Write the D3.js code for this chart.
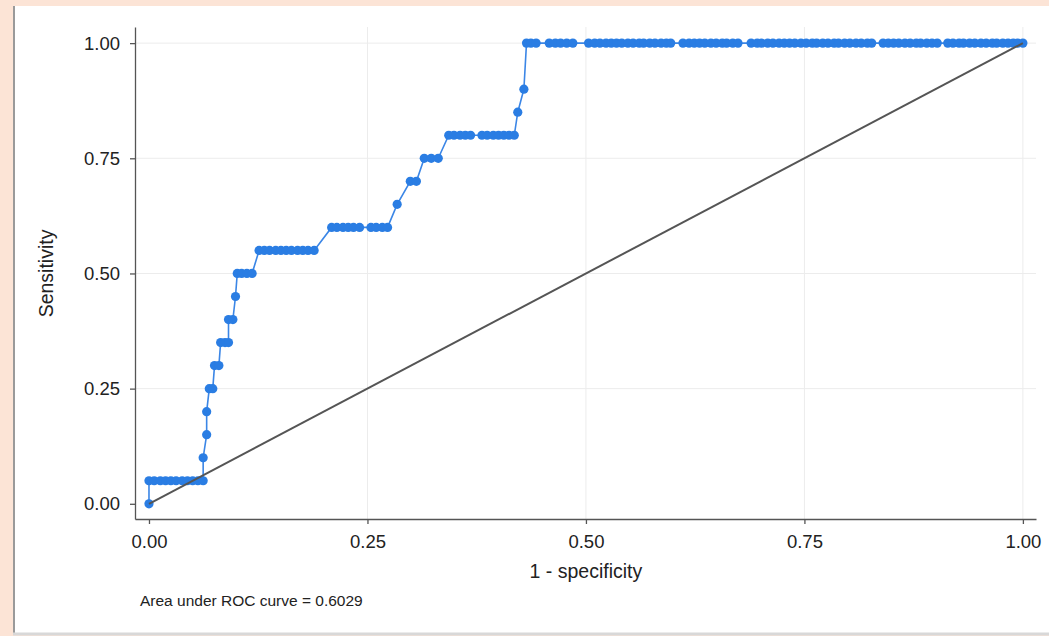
<!DOCTYPE html>
<html>
<head>
<meta charset="utf-8">
<script src="https://cdn.jsdelivr.net/npm/d3@7"></script>
<style>
  body { margin: 0; background: #fce4d6; }
  svg { display: block; font-family: "Liberation Sans", Arial, Helvetica, sans-serif; }
  .axis path, .axis line { stroke: #555; stroke-width: 1.3px; }
  .axis text { fill: #222; font-size: 18.5px; }
</style>
</head>
<body>
<div class="chart"></div>
<script>
// ROC points: 1 - specificity and sensitivity
var fpr = [
  0.000,
  0.000, 0.006, 0.013, 0.019, 0.025, 0.031, 0.038, 0.044, 0.050, 0.056, 0.062,
  0.062,
  0.066,
  0.066,
  0.069, 0.073,
  0.075, 0.080,
  0.082, 0.087, 0.091,
  0.091, 0.096,
  0.099,
  0.101, 0.106, 0.112, 0.118,
  0.126, 0.132, 0.138, 0.145, 0.151, 0.157, 0.163, 0.170, 0.176, 0.182, 0.189,
  0.209, 0.215, 0.222, 0.228, 0.234, 0.241, 0.254, 0.260, 0.267, 0.273,
  0.284,
  0.299, 0.306,
  0.315, 0.323, 0.331,
  0.343, 0.349, 0.356, 0.362, 0.368, 0.381, 0.387, 0.394, 0.400, 0.406, 0.412, 0.418,
  0.422,
  0.429,
  0.432, 0.437, 0.443, 0.458, 0.465, 0.471, 0.478, 0.485,
  0.503, 0.510, 0.516, 0.523, 0.529, 0.535, 0.541, 0.548, 0.554, 0.561, 0.566,
  0.573, 0.579, 0.586, 0.592, 0.597,
  0.611, 0.618, 0.624, 0.630, 0.636, 0.643, 0.649, 0.656, 0.661, 0.668, 0.674,
  0.689, 0.696, 0.701, 0.708, 0.714, 0.721, 0.727, 0.733, 0.739, 0.746, 0.752,
  0.759, 0.764, 0.771, 0.777, 0.784, 0.789, 0.796, 0.802, 0.809, 0.815, 0.822, 0.827,
  0.840, 0.846, 0.852, 0.858, 0.865, 0.871, 0.878, 0.883, 0.890, 0.896, 0.902,
  0.914, 0.920, 0.927, 0.932, 0.939, 0.945, 0.952, 0.958, 0.965, 0.970, 0.977,
  0.983, 0.989, 0.994, 1.000
];
var sens = [
  0.00,
  0.05, 0.05, 0.05, 0.05, 0.05, 0.05, 0.05, 0.05, 0.05, 0.05, 0.05,
  0.10,
  0.15,
  0.20,
  0.25, 0.25,
  0.30, 0.30,
  0.35, 0.35, 0.35,
  0.40, 0.40,
  0.45,
  0.50, 0.50, 0.50, 0.50,
  0.55, 0.55, 0.55, 0.55, 0.55, 0.55, 0.55, 0.55, 0.55, 0.55, 0.55,
  0.60, 0.60, 0.60, 0.60, 0.60, 0.60, 0.60, 0.60, 0.60, 0.60,
  0.65,
  0.70, 0.70,
  0.75, 0.75, 0.75,
  0.80, 0.80, 0.80, 0.80, 0.80, 0.80, 0.80, 0.80, 0.80, 0.80, 0.80, 0.80,
  0.85,
  0.90,
  1.00, 1.00, 1.00, 1.00, 1.00, 1.00, 1.00, 1.00,
  1.00, 1.00, 1.00, 1.00, 1.00, 1.00, 1.00, 1.00, 1.00, 1.00, 1.00,
  1.00, 1.00, 1.00, 1.00, 1.00,
  1.00, 1.00, 1.00, 1.00, 1.00, 1.00, 1.00, 1.00, 1.00, 1.00, 1.00,
  1.00, 1.00, 1.00, 1.00, 1.00, 1.00, 1.00, 1.00, 1.00, 1.00, 1.00,
  1.00, 1.00, 1.00, 1.00, 1.00, 1.00, 1.00, 1.00, 1.00, 1.00, 1.00, 1.00,
  1.00, 1.00, 1.00, 1.00, 1.00, 1.00, 1.00, 1.00, 1.00, 1.00, 1.00,
  1.00, 1.00, 1.00, 1.00, 1.00, 1.00, 1.00, 1.00, 1.00, 1.00, 1.00,
  1.00, 1.00, 1.00, 1.00
];
var tickValues = [0, 0.25, 0.5, 0.75, 1];
var xTitle = "1 - specificity";
var yTitle = "Sensitivity";
var note = "Area under ROC curve = 0.6029";

var svgWidth = 1049;
var svgHeight = 636;

var svg = d3.select(".chart")
    .append("svg")
    .attr("width", svgWidth)
    .attr("height", svgHeight);

// white graph panel on the peach page
svg.append("rect")
    .attr("x", 13).attr("y", 6)
    .attr("width", svgWidth - 13).attr("height", 627)
    .attr("fill", "#fff");
svg.append("line")
    .attr("x1", 14).attr("x2", 14).attr("y1", 6).attr("y2", 634)
    .attr("stroke", "#9a9a9a").attr("stroke-width", 2);
svg.append("line")
    .attr("x1", 13).attr("x2", svgWidth).attr("y1", 634).attr("y2", 634)
    .attr("stroke", "#d8d8d8").attr("stroke-width", 3);

// scales (plot region runs a little past 0 and 1, as Stata does)
var x = d3.scaleLinear().domain([-0.016, 1.015]).range([135, 1036]);
var y = d3.scaleLinear().domain([-0.033, 1.035]).range([519, 27]);

// grid
var grid = svg.append("g");
grid.selectAll(".gx").data(tickValues.slice(1)).enter().append("line")
    .attr("x1", function (d) { return x(d); })
    .attr("x2", function (d) { return x(d); })
    .attr("y1", y.range()[1]).attr("y2", y.range()[0])
    .attr("stroke", "#ececec").attr("stroke-width", 1);
grid.selectAll(".gy").data(tickValues.slice(1)).enter().append("line")
    .attr("x1", x.range()[0]).attr("x2", x.range()[1])
    .attr("y1", function (d) { return y(d); })
    .attr("y2", function (d) { return y(d); })
    .attr("stroke", "#ececec").attr("stroke-width", 1);

// ROC curve
var pts = fpr.map(function (d, i) { return [d, sens[i]]; });
var line = d3.line()
    .x(function (d) { return x(d[0]); })
    .y(function (d) { return y(d[1]); });

svg.append("path")
    .datum(pts)
    .attr("d", line)
    .attr("fill", "none")
    .attr("stroke", "#3b86e6")
    .attr("stroke-width", 1.6);

svg.selectAll("circle")
    .data(pts)
    .enter()
    .append("circle")
    .attr("cx", function (d) { return x(d[0]); })
    .attr("cy", function (d) { return y(d[1]); })
    .attr("r", 4.6)
    .attr("fill", "#2a7de3");

// reference diagonal
svg.append("path")
    .datum([[0, 0], [1, 1]])
    .attr("d", line)
    .attr("fill", "none")
    .attr("stroke", "#555")
    .attr("stroke-width", 2);

// axes
svg.append("g")
    .attr("class", "axis")
    .attr("transform", "translate(0," + y.range()[0] + ")")
    .call(d3.axisBottom(x).tickValues(tickValues).tickFormat(d3.format(".2f"))
        .tickSizeOuter(0).tickSizeInner(5).tickPadding(11));

svg.append("g")
    .attr("class", "axis")
    .attr("transform", "translate(" + x.range()[0] + ",0)")
    .call(d3.axisLeft(y).tickValues(tickValues).tickFormat(d3.format(".2f"))
        .tickSizeOuter(0).tickSizeInner(5).tickPadding(10));

// titles
svg.append("text")
    .attr("x", x(0.5))
    .attr("y", 578)
    .attr("text-anchor", "middle")
    .attr("font-size", "19.5px")
    .attr("fill", "#222")
    .text(xTitle);

svg.append("text")
    .attr("transform", "translate(53," + y(0.5) + ") rotate(-90)")
    .attr("text-anchor", "middle")
    .attr("font-size", "19.5px")
    .attr("fill", "#222")
    .text(yTitle);

svg.append("text")
    .attr("x", 140)
    .attr("y", 606)
    .attr("font-size", "15.5px")
    .attr("fill", "#222")
    .text(note);
</script>
</body>
</html>
